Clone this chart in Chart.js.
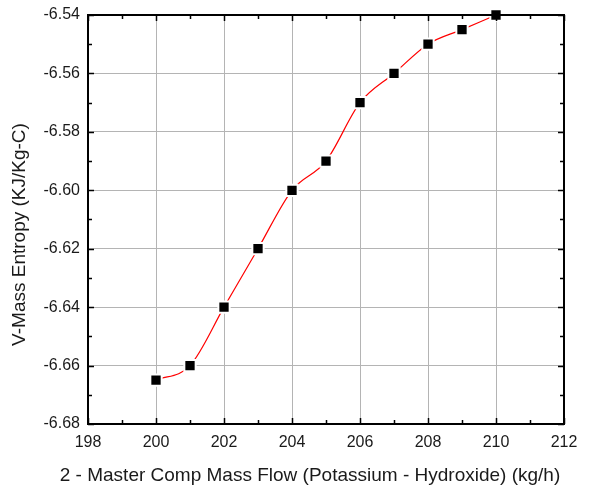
<!DOCTYPE html>
<html>
<head>
<meta charset="utf-8">
<script src="https://cdn.jsdelivr.net/npm/chart.js@4"></script>
<style>
  html, body { margin: 0; padding: 0; background: #fff; }
  #wrap { width: 592px; height: 493px; }
</style>
</head>
<body>
<div id="wrap"><canvas id="chart" width="592" height="493"></canvas></div>
<script>
// Mass flow (kg/h) and entropy
const massFlow = [200, 201, 202, 203, 204, 205, 206, 207, 208, 209, 210];
const entropy = [-6.665, -6.66, -6.64, -6.62, -6.60, -6.59, -6.57, -6.56, -6.55, -6.545, -6.54];

const xMin = 198, xMax = 212, xStep = 2;
const yMin = -6.68, yMax = -6.54, yStep = 0.02;

const xTitle = '2 - Master Comp Mass Flow (Potassium - Hydroxide) (kg/h)';
const yTitle = 'V-Mass Entropy (KJ/Kg-C)';

const TEXT = '#1a1a1a';
const FONT = 'Liberation Sans, Arial, sans-serif';

// inward major/minor ticks on all four sides + frame + axis titles
const frameTicks = {
  id: 'frameTicks',
  afterDraw(chart) {
    const { ctx, chartArea: a, scales } = chart;
    const xs = scales.x, ys = scales.y;
    ctx.save();
    ctx.strokeStyle = '#000';
    ctx.lineWidth = 1.5;
    ctx.beginPath();
    for (let v = xMin; v <= xMax + 1e-9; v += xStep / 2) {
      const px = Math.round(xs.getPixelForValue(v)) + 0.5;
      const major = Math.abs((v - xMin) / xStep - Math.round((v - xMin) / xStep)) < 1e-6;
      const len = major ? 6 : 4;
      ctx.moveTo(px, a.bottom); ctx.lineTo(px, a.bottom - len);
      ctx.moveTo(px, a.top); ctx.lineTo(px, a.top + len);
    }
    for (let i = 0; i <= Math.round((yMax - yMin) / (yStep / 2)); i++) {
      const v = yMin + i * yStep / 2;
      const py = Math.round(ys.getPixelForValue(v)) + 0.5;
      const len = i % 2 === 0 ? 6 : 4;
      ctx.moveTo(a.left, py); ctx.lineTo(a.left + len, py);
      ctx.moveTo(a.right, py); ctx.lineTo(a.right - len, py);
    }
    ctx.stroke();
    ctx.lineWidth = 2;
    ctx.strokeRect(a.left, a.top, a.right - a.left, a.bottom - a.top);

    ctx.fillStyle = TEXT;
    ctx.font = '19px ' + FONT;
    ctx.textAlign = 'center';
    ctx.textBaseline = 'middle';
    // titles are placed off-centre in the original
    ctx.fillText(xTitle, 310, 476);
    ctx.translate(20, (a.top + a.bottom) / 2 + 15);
    ctx.rotate(-Math.PI / 2);
    ctx.fillText(yTitle, 0, 0);
    ctx.restore();
  }
};

new Chart(document.getElementById('chart'), {
  type: 'line',
  data: {
    datasets: [{
      data: massFlow.map((x, i) => ({ x: x, y: entropy[i] })),
      borderColor: '#ff0000',
      borderWidth: 1.2,
      tension: 0.4,
      cubicInterpolationMode: 'monotone',
      pointStyle: 'rect',
      pointRadius: 8,
      pointBackgroundColor: '#000',
      pointBorderColor: '#fff',
      pointBorderWidth: 2,
      clip: false,
    }],
  },
  options: {
    responsive: false,
    animation: false,
    layout: { padding: { left: 0, right: 28, top: 15, bottom: 0 } },
    plugins: { legend: { display: false }, tooltip: { enabled: false } },
    scales: {
      x: {
        type: 'linear',
        min: xMin, max: xMax,
        afterFit: s => { s.height = 69; s.paddingLeft = 0; s.paddingRight = 0; },
        ticks: { stepSize: xStep, color: TEXT, font: { size: 16, family: FONT }, padding: 9 },
        grid: { color: '#b4b4b4', lineWidth: 1, drawTicks: false },
        border: { display: false },
      },
      y: {
        type: 'linear',
        min: yMin, max: yMax,
        afterFit: s => { s.width = 88; s.paddingTop = 0; s.paddingBottom = 0; },
        ticks: {
          stepSize: yStep, color: TEXT, font: { size: 16, family: FONT }, padding: 8,
          callback: v => v.toFixed(2),
        },
        grid: { color: '#b4b4b4', lineWidth: 1, drawTicks: false },
        border: { display: false },
      },
    },
  },
  plugins: [frameTicks],
});
</script>
</body>
</html>
